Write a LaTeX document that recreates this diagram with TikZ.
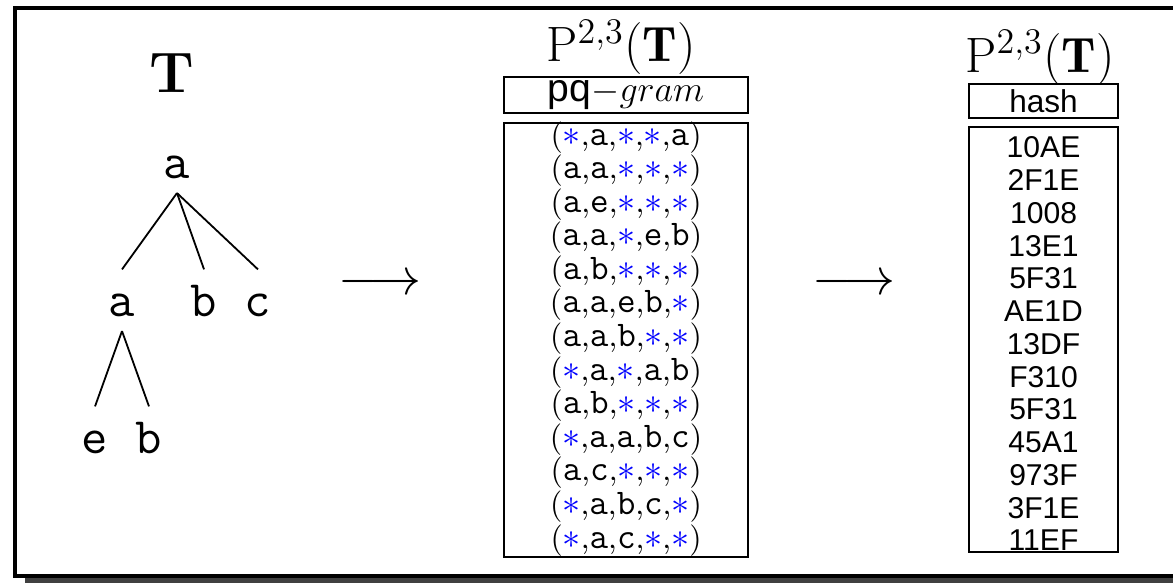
\documentclass[tikz,border=0pt]{standalone}
\usepackage{fontspec}
\setsansfont{Liberation Sans}
\usepackage{tikz}
\usetikzlibrary{positioning, calc}

% one pq-gram: parens and commas in roman, labels in typewriter
\newcommand{\pqs}{\textcolor{blue}{$\ast$}}
\newcommand{\pql}[1]{{\fontsize{12}{13}\selectfont\ttfamily #1}}
\newcommand{\pqg}[5]{(\pql{#1},\pql{#2},\pql{#3},\pql{#4},\pql{#5})}

\begin{document}
\begin{tikzpicture}[
    treenode/.style={font=\fontsize{17}{20}\selectfont\ttfamily, text height=10.5pt, text depth=0pt, inner sep=4.8pt, anchor=base},
    edge/.style={line width=0.6pt},
    title/.style={font=\fontsize{16.5}{19}\selectfont, anchor=base},
    hdrbox/.style={draw, line width=0.7pt, inner sep=0pt},
    listbox/.style={draw, line width=0.7pt, inner sep=0pt},
    pqrow/.style={font=\fontsize{10.5}{12}\selectfont, anchor=base, inner sep=0pt},
    hashrow/.style={font=\fontsize{10}{11}\selectfont\sffamily, anchor=base, inner sep=0pt}]
\useasboundingbox (0,0) rectangle (13.70,-6.798);
\clip (0,0) rectangle (13.70,-6.798);

% frame with shadow
\fill[black!75] (0.29,-0.20) rectangle (13.95,-6.85);
\draw[line width=1.33pt, fill=white] (0.175,-0.093) rectangle (13.84,-6.728);

% the tree
\node[anchor=base, font=\fontsize{19}{22}\selectfont\bfseries] (tname) at (2.009,-1.086) {T};
\node[treenode] (r) at (2.067,-2.079) {a};
\node[treenode] (ra) at (1.425,-3.691) {a};
\node[treenode] (rb) at (2.383,-3.691) {b};
\node[treenode] (rc) at (3.013,-3.691) {c};
\node[treenode] (rae) at (1.110,-5.291) {e};
\node[treenode] (rab) at (1.740,-5.291) {b};
\draw[edge] (r.south) -- (ra.north);
\draw[edge] (r.south) -- (rb.north);
\draw[edge] (r.south) -- (rc.north);
\draw[edge] (ra.south) -- (rae.north);
\draw[edge] (ra.south) -- (rab.north);

% arrows between the steps
\node[title] (arr1) at (4.438,-3.44) {$\longrightarrow$};
\node[title] (arr2) at (9.975,-3.44) {$\longrightarrow$};

% pq-gram profile
\node[title] (pqname) at (7.253,-0.724) {$\mathrm{P}^{2,3}(\mathbf{T})$};
\node[hdrbox, minimum width=2.850cm, minimum height=0.42cm, font=\fontsize{13}{15}\selectfont] (pqhdr) at (7.312,-1.110) {\textsf{pq}$-gram$};
\node[listbox, minimum width=2.850cm, minimum height=5.069cm] (pqbox) at (7.312,-3.971) {};
\foreach \tup [count=\i from 0] in {
    {\pqg{\pqs}{a}{\pqs}{\pqs}{a}},
    {\pqg{a}{a}{\pqs}{\pqs}{\pqs}},
    {\pqg{a}{e}{\pqs}{\pqs}{\pqs}},
    {\pqg{a}{a}{\pqs}{e}{b}},
    {\pqg{a}{b}{\pqs}{\pqs}{\pqs}},
    {\pqg{a}{a}{e}{b}{\pqs}},
    {\pqg{a}{a}{b}{\pqs}{\pqs}},
    {\pqg{\pqs}{a}{\pqs}{a}{b}},
    {\pqg{a}{b}{\pqs}{\pqs}{\pqs}},
    {\pqg{\pqs}{a}{a}{b}{c}},
    {\pqg{a}{c}{\pqs}{\pqs}{\pqs}},
    {\pqg{\pqs}{a}{b}{c}{\pqs}},
    {\pqg{\pqs}{a}{c}{\pqs}{\pqs}}}
    \node[pqrow] (pq\i) at (7.312,-1.694-0.3922*\i) {\tup};

% hashed profile
\node[title] (hname) at (12.147,-0.841) {$\mathrm{P}^{2,3}(\mathbf{T})$};
\node[hdrbox, minimum width=1.740cm, minimum height=0.397cm, font=\fontsize{10.5}{12}\selectfont\sffamily] (hhdr) at (12.188,-1.180) {hash};
\node[listbox, minimum width=1.740cm, minimum height=4.964cm] (hbox) at (12.188,-3.965) {};
\foreach \h [count=\i from 0] in {10AE,2F1E,1008,13E1,5F31,AE1D,13DF,F310,5F31,45A1,973F,3F1E,11EF}
    \node[hashrow] (h\i) at (12.188,-1.845-0.3825*\i) {\h};
\end{tikzpicture}
\end{document}
